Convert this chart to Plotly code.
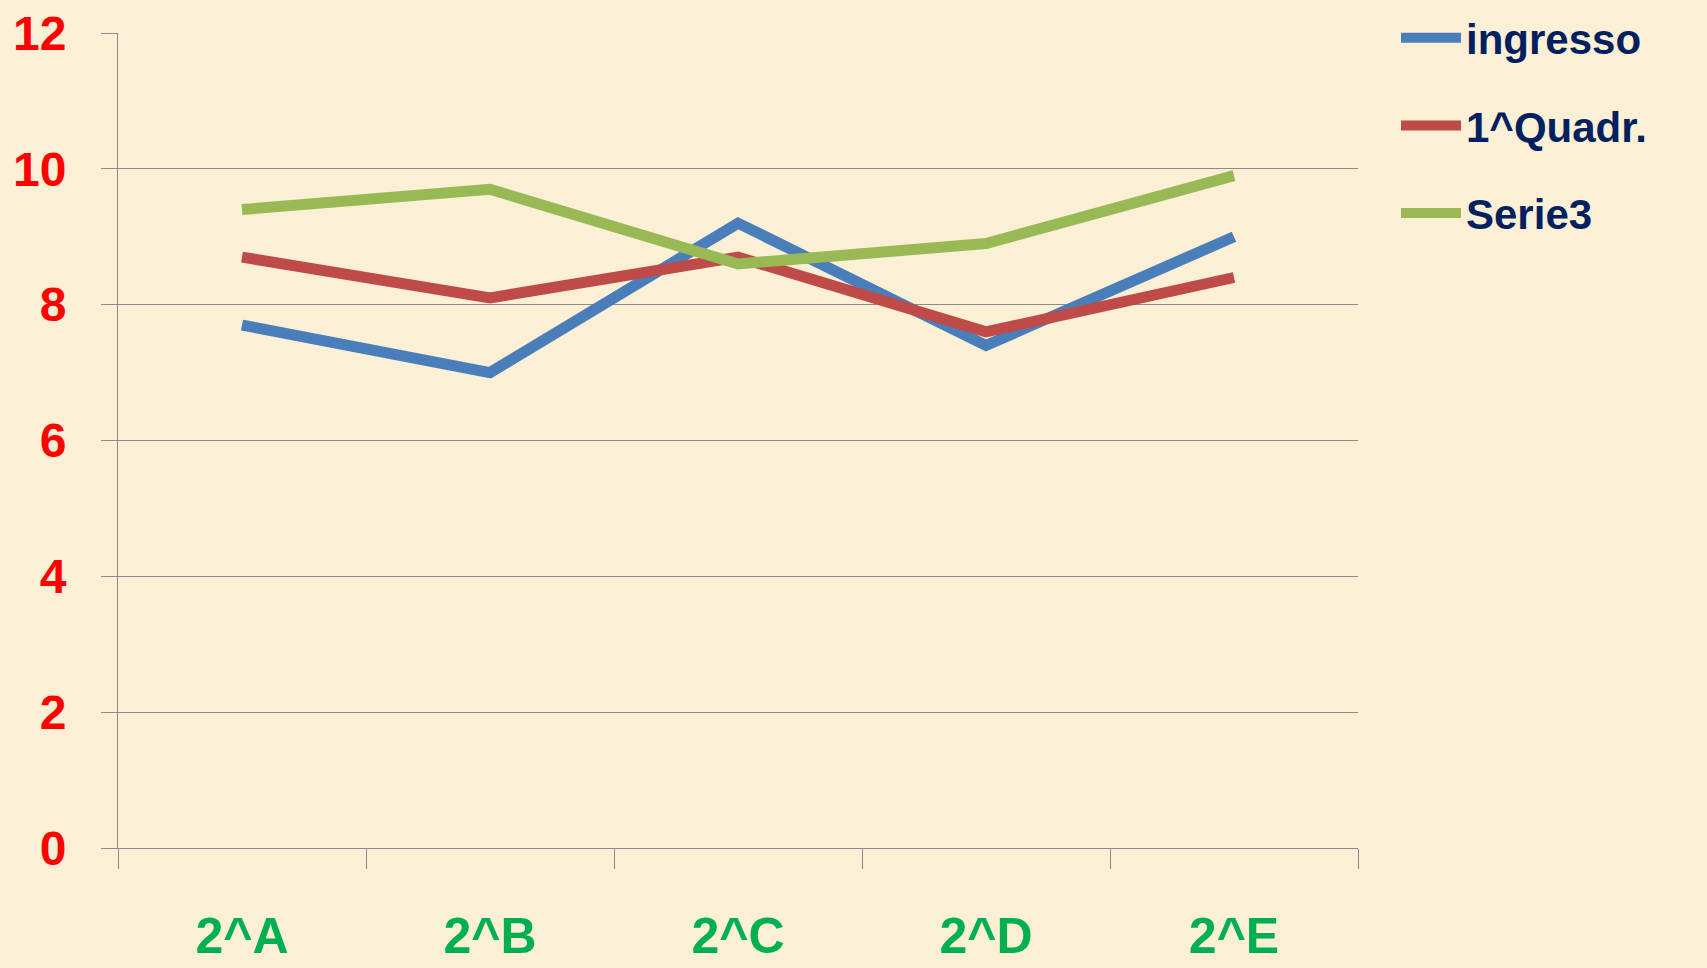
import plotly.graph_objects as go

categories = ["2^A", "2^B", "2^C", "2^D", "2^E"]
ingresso = [7.7, 7.0, 9.2, 7.4, 9.0]
quadr1 = [8.7, 8.1, 8.7, 7.6, 8.4]
serie3 = [9.4, 9.7, 8.6, 8.9, 9.9]
series_names = ["ingresso", "1^Quadr.", "Serie3"]
y_ticks = [0, 2, 4, 6, 8, 10, 12]

colors = ["#4A7EBB", "#BE4B48", "#98B954"]
bg = "#FBF0D6"
grid = "#8C8C8C"
font_family = "Liberation Sans, Arial, sans-serif"

fig = go.Figure()
for name, vals, col in zip(series_names, [ingresso, quadr1, serie3], colors):
    fig.add_trace(go.Scatter(
        x=categories, y=vals, name=name, mode="lines",
        line=dict(color=col, width=11), legendgroup=name,
    ))

fig.update_layout(
    width=1707, height=968, autosize=False,
    margin=dict(l=118, r=349, t=33, b=120),
    paper_bgcolor=bg, plot_bgcolor=bg,
    showlegend=True,
    legend=dict(
        xref="container", yref="container",
        x=1396/1707, xanchor="left", y=1 - 4/968, yanchor="top",
        bgcolor="rgba(0,0,0,0)",
        font=dict(family=font_family, size=42, color="#002060", weight="bold"),
        tracegroupgap=30, itemwidth=60,
    ),
    xaxis=dict(
        type="category", range=[-0.5, 4.5], automargin=False,
        showline=True, linecolor=grid, linewidth=1,
        ticks="outside", tickson="boundaries", ticklen=20, tickcolor=grid,
        showgrid=False,
        tickfont=dict(family=font_family, size=50, color="#00B050", weight="bold"),
        ticklabelstandoff=44,
    ),
    yaxis=dict(
        range=[0, 12], tickvals=y_ticks, automargin=False,
        showline=True, linecolor=grid, linewidth=1,
        showgrid=True, gridcolor=grid, gridwidth=1, zeroline=False,
        ticks="outside", ticklen=16, tickcolor=grid,
        tickfont=dict(family=font_family, size=48, color="#FF0000", weight="bold"),
        ticklabelstandoff=25,
    ),
)

fig.write_html(
    "out.html",
    config={"displayModeBar": False},
    post_script="document.body.style.margin='0';document.body.style.background='" + bg + "';",
)
